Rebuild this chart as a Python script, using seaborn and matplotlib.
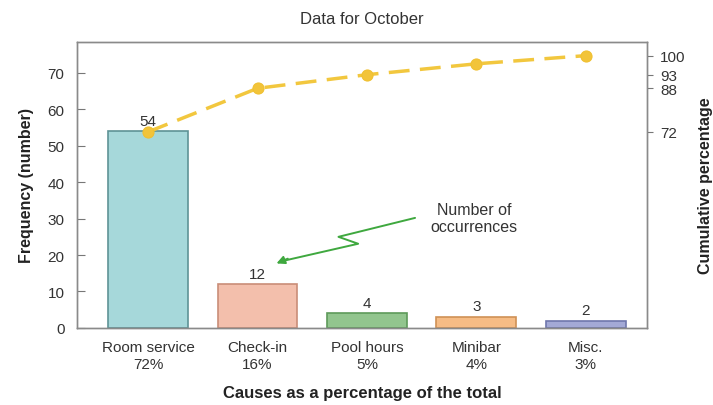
import numpy as np
import pandas as pd
import matplotlib
matplotlib.use("Agg")
import matplotlib.pyplot as plt
import seaborn as sns

sns.set_theme(style="white")
plt.rcParams['font.family'] = ['Liberation Sans', 'DejaVu Sans']

categories = ["Room service", "Check-in", "Pool hours", "Minibar", "Misc."]
frequency = [54, 12, 4, 3, 2]
percent_labels = ["72%", "16%", "5%", "4%", "3%"]
cumulative = [72, 88, 93, 97, 100]
right_ticks = [72, 88, 93, 100]
left_ticks = [0, 10, 20, 30, 40, 50, 60, 70]

bar_colors = ["#a6d8da", "#f3bfac", "#92c58e", "#f6bc85", "#a3a9d6"]
edge_colors = ["#5f9396", "#c98d78", "#5e9a5a", "#cf9156", "#6f77ad"]
line_color = "#f2c73e"

df = pd.DataFrame({"cause": categories, "freq": frequency})

fig = plt.figure(figsize=(7.13, 4.06), dpi=100)
ax = fig.add_axes([0.108, 0.19, 0.7994, 0.704])

sns.barplot(data=df, x="cause", y="freq", hue="cause", palette=bar_colors,
            width=0.73, legend=False, ax=ax, saturation=1)
for patch, ec in zip(ax.patches, edge_colors):
    patch.set_edgecolor(ec)
    patch.set_linewidth(1.2)

for i, v in enumerate(frequency):
    ax.text(i, v + 1.0, str(v), ha="center", va="bottom", fontsize=11, color="#333333")

ax.set_xlim(-0.65, 4.56)
ax.set_ylim(0, 78.5)
ax.set_yticks(left_ticks)
ax.set_xticks(range(len(categories)))
ax.set_xticklabels([f"{c}\n{p}" for c, p in zip(categories, percent_labels)],
                   fontsize=11, color="#333333", linespacing=1.25)
ax.tick_params(axis="x", length=0, pad=9)
ax.tick_params(axis="y", length=6, width=0.8, color="#777777", labelsize=11,
               labelcolor="#333333", left=True, direction="in", pad=9)
ax.set_xlabel("Causes as a percentage of the total", fontsize=12,
              fontweight="bold", color="#222222", labelpad=10)
ax.set_ylabel("Frequency (number)", fontsize=11.5, fontweight="bold",
              color="#222222", labelpad=10)
for s in ax.spines.values():
    s.set_color("#8a8a8a")
    s.set_linewidth(1.0)

ax2 = ax.twinx()
sns.lineplot(x=np.arange(len(categories)), y=cumulative, ax=ax2, color=line_color,
             linestyle=(0, (6, 3)), linewidth=2.5, marker="o", markersize=8,
             markeredgecolor="#f0c030", markerfacecolor="#f2c43a")
ax2.set_ylim(0, 105)
ax2.set_yticks(right_ticks)
ax2.tick_params(axis="y", length=4.5, width=0.8, color="#777777", labelsize=11,
                labelcolor="#333333", right=True, direction="out", pad=5)
ax2.set_ylabel("Cumulative percentage", fontsize=11.5, fontweight="bold",
               color="#222222", labelpad=9)
ax2.set_xlim(-0.65, 4.56)
for s in ax2.spines.values():
    s.set_color("#8a8a8a")
    s.set_linewidth(1.0)

ax.set_title("Data for October", fontsize=12, color="#333333", pad=14)

# annotation with zigzag arrow
arrow_color = "#3fa83f"
path_x = [2.44, 1.74, 1.92, 1.22]
path_y = [30.2, 25.0, 23.1, 18.3]
ax.plot(path_x, path_y, color=arrow_color, linewidth=1.4, zorder=5)
ax.annotate("", xy=(1.15, 17.4), xytext=(1.30, 19.3),
            arrowprops=dict(arrowstyle="-|>", color=arrow_color, lw=1.4,
                            mutation_scale=12), zorder=5)
ax.text(2.98, 30.2, "Number of\noccurrences", ha="center", va="center",
        fontsize=11.5, color="#333333", linespacing=1.15)

fig.savefig("out.png", dpi=100)
